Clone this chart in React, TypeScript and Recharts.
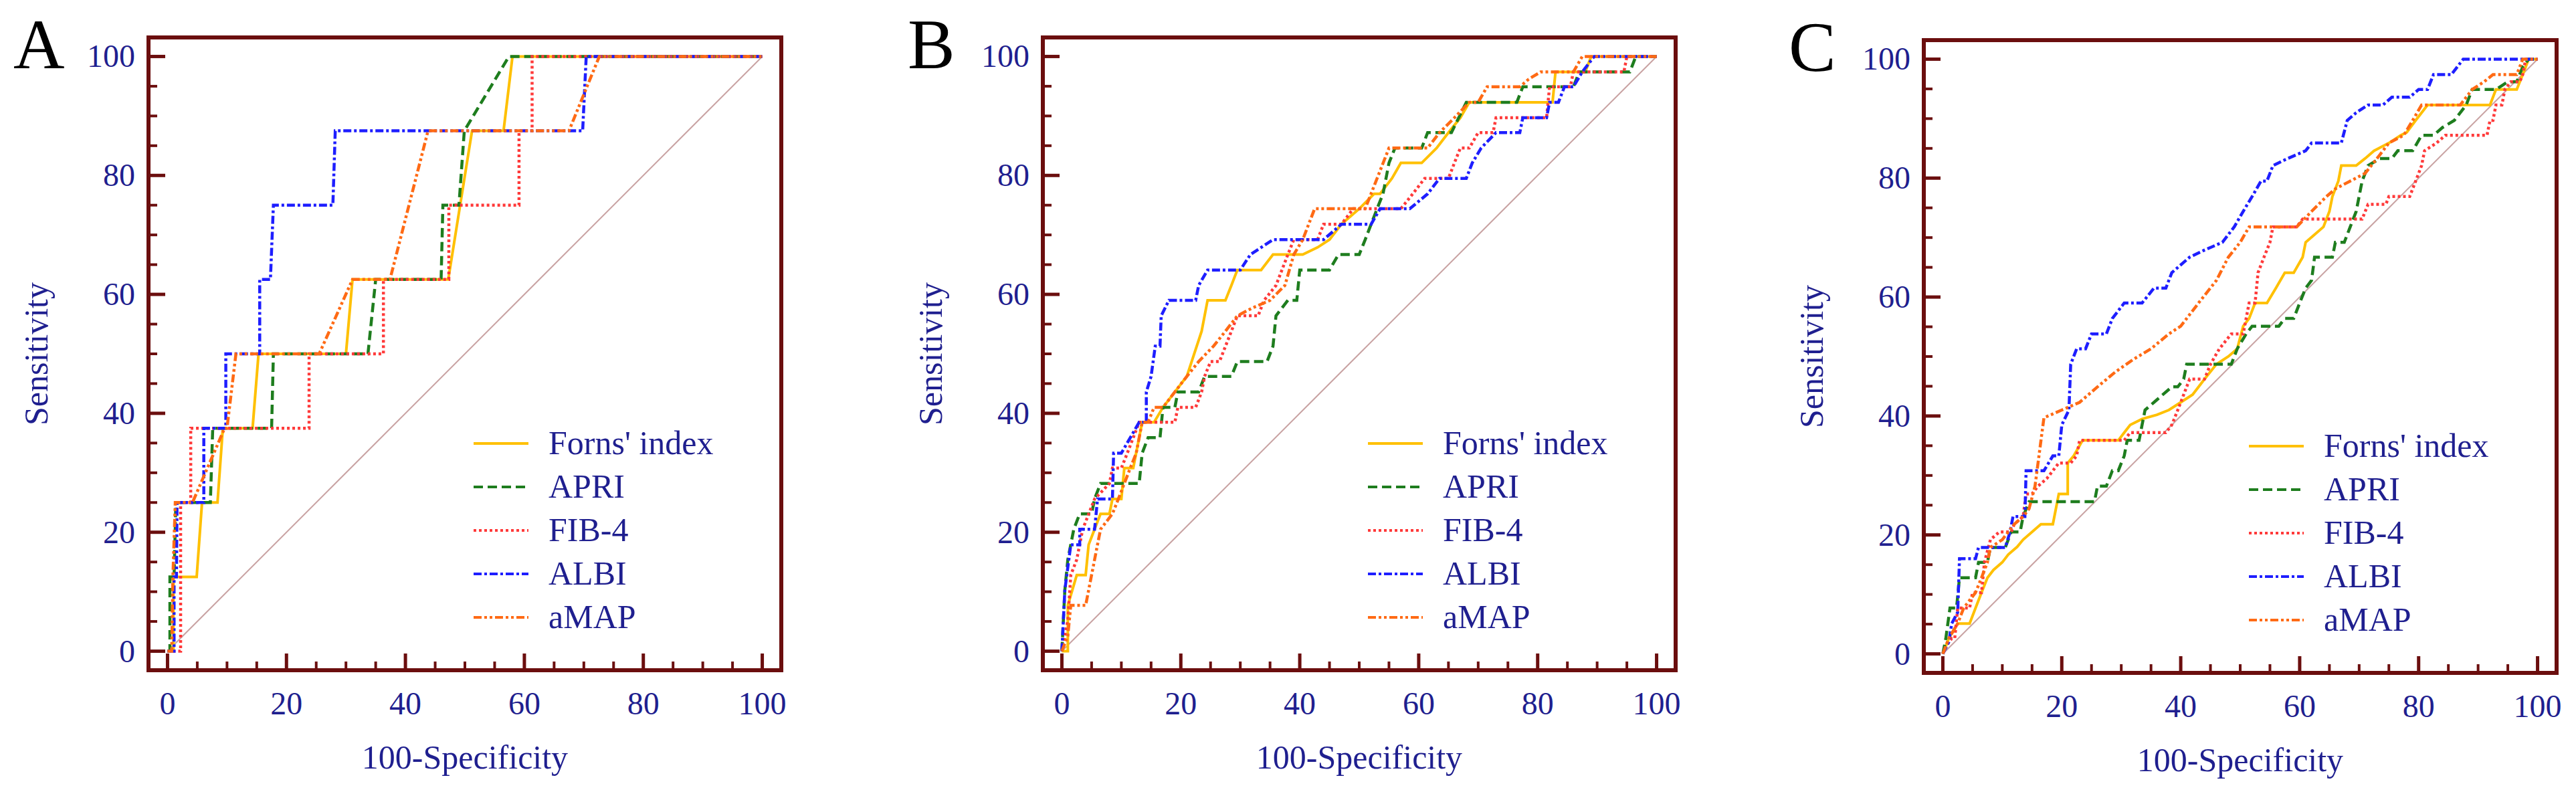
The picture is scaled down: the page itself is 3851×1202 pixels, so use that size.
import React from "react"
import { LineChart, Line, XAxis, YAxis, ReferenceLine, ReferenceArea, Legend } from "recharts"

type Pt = [number, number]

// axis: major ticks every 20 (labelled), minor every 5
const axisTicks = [0, 5, 10, 15, 20, 25, 30, 35, 40, 45, 50, 55, 60, 65, 70, 75, 80, 85, 90, 95, 100]
const axisDomain: [number, number] = [-3.2, 103.2]
const diagonal = [{ x: 0, y: 0 }, { x: 100, y: 100 }]

const seriesNames = ["Forns' index", "APRI", "FIB-4", "ALBI", "aMAP"]
const seriesColors = ["#FFC000", "#1E7D1E", "#FF3A3A", "#1E1EFF", "#FF6A14"]
const seriesDash = ["", "14 7", "4 4", "12 4 4 4", "12 4 4 4 4 4"]
const seriesWidth = [4, 4.5, 4.5, 4.5, 4.5]

// panel A  (x = 100-specificity, y = sensitivity)
const fornsA: Pt[] = [[0,0],[1,0],[1,12.5],[4.9,12.5],[5.8,25],[8.4,25],[9.3,37.5],[14.3,37.5],[15.3,50],[30,50],[31.1,62.5],[47.2,62.5],[51.2,87.5],[56.5,87.5],[58,100],[100,100]]
const apriA: Pt[] = [[0,0],[0.4,0],[0.4,12.5],[1.1,12.5],[1.4,25],[7.2,25],[7.6,37.5],[17.5,37.5],[17.8,50],[33.7,50],[35,62.5],[46,62.5],[46.3,75],[49,75],[49.9,87.5],[57.4,100],[100,100]]
const fib4A: Pt[] = [[0,0],[2.2,0],[2.2,25],[3.9,25],[3.9,37.5],[23.8,37.5],[23.8,50],[36.3,50],[36.3,62.5],[47.3,62.5],[47.3,75],[59.1,75],[59.1,87.5],[61.3,87.5],[61.3,100],[100,100]]
const albiA: Pt[] = [[0,0],[1.1,0],[1.1,12.5],[1.5,12.5],[1.6,25],[6.1,25],[6.1,37.5],[9.8,37.5],[9.8,50],[15.5,50],[15.5,62.5],[17.3,62.5],[17.8,75],[27.8,75],[28.2,87.5],[69.8,87.5],[70.4,100],[100,100]]
const amapA: Pt[] = [[0,0],[0.7,0],[0.9,12.5],[1.3,25],[4.2,25],[9.6,37.5],[10,37.5],[11.5,50],[25.5,50],[31.1,62.5],[37.4,62.5],[43.8,87.5],[67.5,87.5],[72.6,100],[100,100]]

// panel B
const fornsB: Pt[] = [[0,0],[1,0],[1,7.7],[2.5,12.8],[4,12.8],[4.5,17.9],[5.5,20.5],[6.5,23.1],[8,23.1],[8.5,25.6],[10,25.6],[10.5,30.8],[12,30.8],[13.5,38.5],[15.5,38.5],[17,41],[19,43.6],[21,46.2],[23.5,53.8],[24.5,59],[27.5,59],[28.5,61.5],[29.5,64.1],[33.5,64.1],[35.5,66.7],[40.5,66.7],[43,67.9],[45,69.2],[47,71.8],[50,74.4],[52.5,76.9],[53.5,76.9],[55.5,79.5],[57,82.1],[60.5,82.1],[63,84.6],[65,87.2],[67,89.7],[68.5,92.3],[82.5,92.3],[83,97.4],[88,97.4],[89,100],[100,100]]
const apriB: Pt[] = [[0,0],[0.5,10.3],[1,15.4],[2,20.5],[3,23.1],[5,23.1],[5.5,25.6],[6.5,28.2],[13,28.2],[13.5,33.3],[14.5,35.9],[16.5,35.9],[17,41],[19,41],[19.5,43.6],[23,43.6],[24,46.2],[28.5,46.2],[29.5,48.7],[34.5,48.7],[35.5,51.3],[36,56.4],[38,59],[39.5,59],[40,64.1],[45,64.1],[46.5,66.7],[50,66.7],[51,69.2],[52,71.8],[53,74.4],[54,76.9],[55,82.1],[56,84.6],[60.5,84.6],[61.5,87.2],[65.5,87.2],[68,92.3],[76.5,92.3],[77.5,94.9],[86,94.9],[87,97.4],[95.5,97.4],[96.5,100],[100,100]]
const fib4B: Pt[] = [[0,0],[1,5.1],[1.5,12.8],[2.5,15.4],[3.5,20.5],[5.5,25.6],[8,28.2],[8.5,30.8],[10,30.8],[11,33.3],[12,35.9],[13,38.5],[19,38.5],[19.5,41],[22.5,41],[23.5,43.6],[24,46.2],[25,48.7],[26.5,48.7],[28.5,53.8],[29.5,56.4],[33,56.4],[34,59],[36,61.5],[37,64.1],[38,66.7],[39,69.2],[43,69.2],[44,71.8],[47,71.8],[49,74.4],[57,74.4],[59,76.9],[61,79.5],[65,79.5],[66,82.1],[67,84.6],[68.5,84.6],[70,87.2],[72.5,87.2],[73,89.7],[81.5,89.7],[82,94.9],[85.5,94.9],[86,97.4],[94.5,97.4],[95,100],[100,100]]
const albiB: Pt[] = [[0,0],[0.5,10.3],[1.5,17.9],[3,17.9],[3,20.5],[5.5,20.5],[6,25.6],[8.5,25.6],[8.7,33.3],[10,33.3],[11.5,35.9],[13,38.5],[14.2,38.5],[14.2,43.6],[15,46.2],[15.7,51.3],[16.5,51.3],[16.7,56.4],[18,59],[22.5,59],[23,61.5],[24.5,64.1],[30,64.1],[31.7,66.7],[35.5,69.2],[44,69.2],[47,71.8],[52,71.8],[53.5,74.4],[58.5,74.4],[61.5,76.9],[63.5,79.5],[68,79.5],[69,82.1],[70.5,84.6],[73,87.2],[77,87.2],[77.5,89.7],[81.5,89.7],[82,92.3],[83.5,92.3],[84.5,94.9],[86,94.9],[87.5,97.4],[89.5,100],[100,100]]
const amapB: Pt[] = [[0,0],[1,2.6],[1.5,7.7],[4,7.7],[5.5,15.4],[6.5,20.5],[8.5,23.1],[9.5,25.6],[10.5,28.2],[11.5,30.8],[12.5,33.3],[13.5,38.5],[14.5,38.5],[15.5,41],[17,41],[19,43.6],[21,46.2],[23,48.7],[25.5,51.3],[27.5,53.8],[29.5,56.4],[32,57.7],[35,59],[37.5,61.5],[39,66.7],[40.5,69.2],[42.5,74.4],[51,74.4],[53,79.5],[55,84.6],[61.5,84.6],[63.5,87.2],[66,89.7],[68.5,92.3],[70,92.3],[71.5,94.9],[77,94.9],[78.5,96.2],[80.5,97.4],[86,97.4],[87.5,100],[100,100]]

// panel C
const fornsC: Pt[] = [[0,0],[1,2.6],[2.5,5.1],[4.5,5.1],[5.5,7.7],[6.5,10.3],[7.5,12.8],[8.5,14.1],[10,15.4],[11,16.7],[12.5,18],[13.5,19.2],[15,20.5],[16.5,21.8],[18.5,21.8],[19.5,26.9],[21,26.9],[21,32.1],[22,33.3],[23.5,35.9],[29.5,35.9],[30.5,37.2],[31.5,38.5],[33.5,39.5],[36,40.2],[38,41],[40,42.3],[42,43.6],[44,46.2],[46,48.7],[48,50],[49.5,51.3],[50.5,55.1],[51.5,56.4],[52.5,59],[54.5,59],[56,61.5],[57.5,64.1],[59,64.1],[60.5,66.7],[61,69.2],[62.5,70.5],[64,71.8],[65,74.4],[65.5,76.9],[66.5,79.5],[67,82.1],[69.5,82.1],[71,83.3],[72.5,84.6],[75,85.9],[77,87.2],[78,87.7],[79.5,89.7],[81.5,92.3],[92,92.3],[93,94.9],[96.5,94.9],[97.5,97.4],[98.5,100],[100,100]]
const apriC: Pt[] = [[0,0],[0.5,2.6],[1.2,7.7],[2.3,7.7],[2.8,12.8],[5.5,12.8],[6,15.4],[7.5,15.4],[8,17.9],[10.5,17.9],[11.5,20.5],[13,20.5],[13.5,23.1],[14.5,25.6],[25.5,25.6],[26,28.2],[27.5,28.2],[28.5,30.8],[29.5,30.8],[30.5,33.3],[31,35.9],[33,35.9],[33.5,38.5],[34,41],[35.5,42.3],[37,43.6],[38.5,44.9],[39.5,44.9],[40.5,46.2],[41,48.7],[48.5,48.7],[49.5,51.3],[51,53.8],[52,55.1],[56.5,55.1],[57.5,56.4],[59,56.4],[60,59],[61,61.5],[62,62.8],[62.5,66.7],[65.5,66.7],[66,69.2],[67.5,69.2],[68.5,71.8],[69.5,74.4],[70.5,79.5],[71.5,82.1],[73.5,83.3],[75.5,83.3],[76.5,84.6],[79,84.6],[80.5,87.2],[82.5,87.2],[84,88.5],[86,89.7],[88,92.3],[89,94.9],[93,94.9],[95,96.2],[96.5,96.2],[97.5,98.7],[98.5,100],[100,100]]
const fib4C: Pt[] = [[0,0],[0.5,1.3],[1.5,2.6],[2,2.6],[2.5,7.7],[4.5,7.7],[5,10.3],[6.5,10.3],[7,15.4],[8,19.2],[9.5,20.5],[11.5,20.5],[12,21.8],[13.5,23.1],[14,26.9],[15,26.9],[16,28.2],[17.5,29.5],[18.5,30.8],[19.5,32.1],[21.5,32.1],[22.5,33.3],[23,35.9],[30.5,35.9],[31.5,37.2],[37.5,37.2],[38.5,38.5],[39.5,41],[40.5,43.6],[41.5,46.2],[44,46.2],[45,48.7],[46.5,51.3],[48.5,53.8],[50.5,53.8],[51.5,59],[52.5,59],[53,64.1],[54,66.7],[55,69.2],[55.5,71.8],[59.5,71.8],[60.5,73.1],[70.5,73.1],[71.5,75.6],[74.5,75.6],[75,76.9],[78.5,76.9],[79.5,79.5],[80.5,82.1],[81,84.6],[83,85.9],[84.5,87.2],[91.5,87.2],[92,89.7],[92.5,89.7],[93,92.3],[94,92.3],[94.5,94.9],[95.5,96.2],[97,96.2],[97.5,97.4],[98,100],[100,100]]
const albiC: Pt[] = [[0,0],[1,2],[1.5,5.1],[2.5,7],[2.8,16],[5.5,16],[6,17.9],[10.5,17.9],[11.3,20.5],[11.8,23.1],[13.8,23.1],[14,30.8],[17,30.8],[18.5,33.3],[19.5,33.3],[20,38.5],[21.2,41],[21.5,48.7],[22.5,51.3],[24,51.3],[25,53.8],[27.5,53.8],[28.5,56.4],[30.5,59],[33.5,59],[35.5,61.5],[37.5,61.5],[38.5,64.1],[41.5,66.7],[44,67.9],[47,69.2],[49,71.8],[50.5,74.4],[52,76.9],[53.5,79.5],[54.5,79.5],[55.5,82.1],[58,83.3],[61,84.6],[62,85.9],[67,85.9],[68,89.7],[69.5,91],[71.5,92.3],[74,92.3],[75.5,93.6],[78.5,93.6],[80,94.9],[81.5,94.9],[82.5,97.4],[85.5,97.4],[87.5,100],[100,100]]
const amapC: Pt[] = [[0,0],[1,2.6],[2.5,5.1],[3.5,7.7],[5.5,10.3],[6.5,12.8],[7.5,15.4],[8,17.9],[10,19.2],[12,21.8],[13.5,23.1],[14.5,24.4],[15.5,28.2],[16.5,35.9],[17,39.7],[20,41],[23,42.3],[26,44.9],[29,47.4],[32,49.5],[35,51.3],[38,53.8],[40,55.1],[43,59],[46,62.8],[48,66.7],[50,69.2],[51.5,71.8],[59.5,71.8],[62,74.4],[64.5,76.9],[66,78.2],[68.5,79.5],[71,80.8],[73,83.3],[75,85.9],[77.5,87.2],[79,89.7],[80.5,92.3],[87,92.3],[89,94.9],[91,96.2],[92.5,97.4],[96.5,97.4],[97.5,100],[100,100]]

const FONT = "'Liberation Serif', 'Times New Roman', serif"
const FRAME = "#6B0E0E"
const NAVY = "#1F1F8F"

// plot frame positions on the page, panel by panel
const PLOT = 946
const panels = [
  { letter: "A", fx: 222, fy: 56, curves: [fornsA, apriA, fib4A, albiA, amapA] },
  { letter: "B", fx: 1559, fy: 56, curves: [fornsB, apriB, fib4B, albiB, amapB] },
  { letter: "C", fx: 2876, fy: 60, curves: [fornsC, apriC, fib4C, albiC, amapC] },
]

function XTick(props: any) {
  const { x, y, payload } = props
  const v = payload.value
  const major = v % 20 === 0
  return (
    <g>
      <line x1={x} y1={y} x2={x} y2={y - (major ? 25 : 13)} stroke={FRAME} strokeWidth={major ? 5 : 4} />
      {major && (
        <text x={x} y={y + 66} textAnchor="middle" fontSize={48} fontFamily={FONT} fill={NAVY}>
          {v}
        </text>
      )}
    </g>
  )
}

function YTick(props: any) {
  const { x, y, payload } = props
  const v = payload.value
  const major = v % 20 === 0
  return (
    <g>
      <line x1={x} y1={y} x2={x + (major ? 25 : 13)} y2={y} stroke={FRAME} strokeWidth={major ? 5 : 4} />
      {major && (
        <text x={x - 20} y={y + 16} textAnchor="end" fontSize={48} fontFamily={FONT} fill={NAVY}>
          {v}
        </text>
      )}
    </g>
  )
}

function LegendBox() {
  return (
    <div style={{ fontFamily: FONT, fontSize: 50, color: NAVY }}>
      {seriesNames.map((n, i) => (
        <div key={n} style={{ display: "flex", alignItems: "center", height: 65 }}>
          <svg width={82} height={10}>
            <line x1={0} y1={5} x2={82} y2={5} stroke={seriesColors[i]} strokeWidth={4} strokeDasharray={seriesDash[i] || undefined} />
          </svg>
          <span style={{ marginLeft: 30, lineHeight: "65px", whiteSpace: "nowrap" }}>{n}</span>
        </div>
      ))}
    </div>
  )
}

function RocPanel({ letter, fx, fy, curves }: { letter: string; fx: number; fy: number; curves: Pt[][] }) {
  const W = 1188
  const H = 1202
  return (
    <div style={{ position: "absolute", left: fx - 222, top: 0 }}>
      <LineChart width={W} height={H} margin={{ top: fy, left: 122, right: 20, bottom: H - fy - PLOT - 100 }}>
        <XAxis
          type="number"
          dataKey="x"
          domain={axisDomain}
          ticks={axisTicks}
          interval={0}
          height={100}
          tickSize={0}
          tickMargin={0}
          axisLine={false}
          tickLine={false}
          allowDataOverflow
          tick={(p: any) => <XTick {...p} />}
          label={(p: any) => {
            const vb = p.viewBox
            return (
              <text x={vb.x + vb.width / 2} y={vb.y + 147} textAnchor="middle" fontSize={50} fontFamily={FONT} fill={NAVY}>
                100-Specificity
              </text>
            )
          }}
        />
        <YAxis
          type="number"
          domain={axisDomain}
          ticks={axisTicks}
          interval={0}
          width={100}
          tickSize={0}
          tickMargin={0}
          axisLine={false}
          tickLine={false}
          allowDataOverflow
          tick={(p: any) => <YTick {...p} />}
          label={(p: any) => {
            const vb = p.viewBox
            const left = vb.x + vb.width
            const cy = vb.y + vb.height / 2
            return (
              <g>
                <text
                  x={left - 168}
                  y={cy}
                  textAnchor="middle"
                  dominantBaseline="central"
                  transform={`rotate(-90 ${left - 168} ${cy})`}
                  fontSize={50}
                  fontFamily={FONT}
                  fill={NAVY}
                >
                  Sensitivity
                </text>
                <text x={left - 202} y={vb.y + 46} fontSize={106} fontFamily={FONT} fill="#000">
                  {letter}
                </text>
              </g>
            )
          }}
        />
        <ReferenceArea x1={axisDomain[0]} x2={axisDomain[1]} y1={axisDomain[0]} y2={axisDomain[1]} fill="none" stroke={FRAME} strokeWidth={6} />
        <ReferenceLine segment={diagonal} stroke="#C9A3A3" strokeWidth={2} />
        {curves.map((c, i) => (
          <Line
            key={seriesNames[i]}
            name={seriesNames[i]}
            data={c.map(([x, y]) => ({ x, y }))}
            dataKey="y"
            type="linear"
            stroke={seriesColors[i]}
            strokeWidth={seriesWidth[i]}
            strokeDasharray={seriesDash[i] || undefined}
            dot={false}
            activeDot={false}
            isAnimationActive={false}
          />
        ))}
        <Legend
          layout="vertical"
          align="center"
          verticalAlign="middle"
          content={() => <LegendBox />}
          wrapperStyle={{ left: 222 + 486, top: fy + 574, width: "auto", height: "auto" }}
        />
      </LineChart>
    </div>
  )
}

export default function App() {
  return (
    <div style={{ position: "absolute", left: 0, top: 0, width: 3851, height: 1202, background: "#fff", overflow: "hidden" }}>
      {panels.map((p) => (
        <RocPanel key={p.letter} {...p} />
      ))}
    </div>
  )
}
